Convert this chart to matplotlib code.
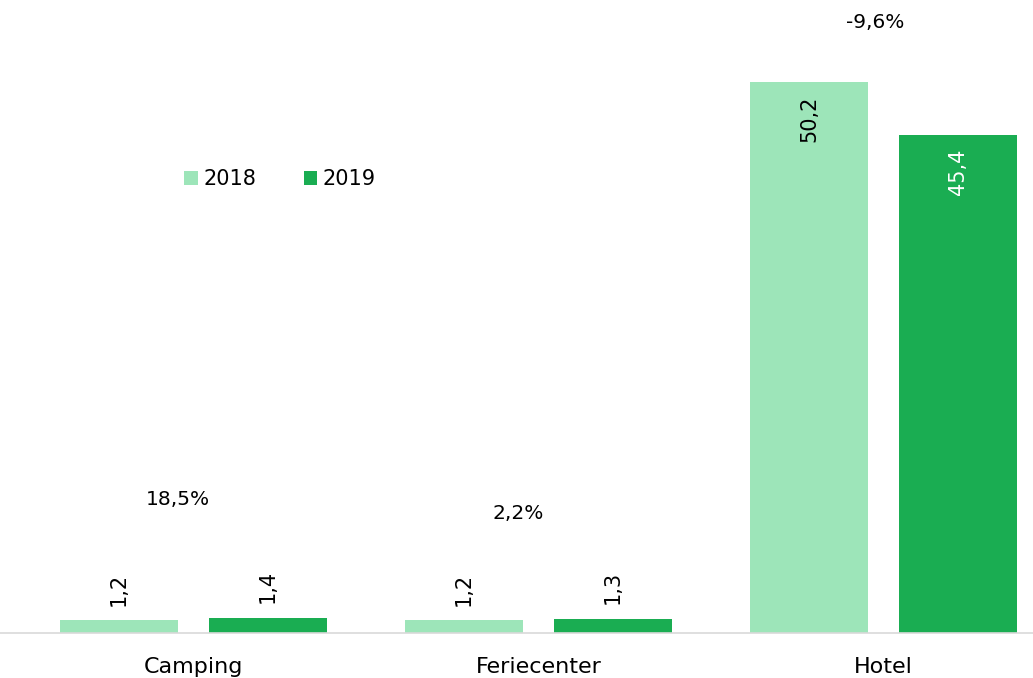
import matplotlib
matplotlib.use("Agg")
import matplotlib.pyplot as plt
import numpy as np

categories = ["Camping", "Feriecenter", "Hotel"]
series_names = ["2018", "2019"]
values_2018 = [1.2, 1.2, 50.2]
values_2019 = [1.4, 1.3, 45.4]
change_labels = ["18,5%", "2,2%", "-9,6%"]
change_label_pos = [(-0.045, 12.2), (-0.06, 10.9), (-0.025, 55.6)]

c18 = "#9de5b9"
c19 = "#1aad52"

plt.rcParams['font.family'] = ['DejaVu Sans']

fig = plt.figure(figsize=(10.33, 6.78), dpi=100)
ax = fig.add_axes([0, 45/678, 1, 633/678])

x = np.arange(len(categories))
w = 0.342
off = 0.216
b1 = ax.bar(x - off, values_2018, w, color=c18, label=series_names[0])
b2 = ax.bar(x + off, values_2019, w, color=c19, label=series_names[1])

ax.set_xlim(-193.5/345, (1033-193.5)/345)
ax.set_ylim(0, 633/10.98)

def fmt(v):
    return f"{v:.1f}".replace(".", ",")

for bars, vals, inner_color in [(b1, values_2018, "black"), (b2, values_2019, "white")]:
    for rect, v in zip(bars, vals):
        cx = rect.get_x() + rect.get_width()/2
        if v > 10:
            ax.text(cx, v - 1.3, fmt(v), rotation=90, ha="center", va="top",
                    fontsize=15, color=inner_color)
        else:
            ax.text(cx, v + 1.3, fmt(v), rotation=90, ha="center", va="bottom",
                    fontsize=15, color="black")

for lab, (px, py), xi in zip(change_labels, change_label_pos, x):
    ax.text(xi + px, py, lab, ha="center", va="center", fontsize=14.5, color="black")

for s in ["top", "right", "left"]:
    ax.spines[s].set_visible(False)
ax.spines["bottom"].set_color("#d9d9d9")
ax.spines["bottom"].set_linewidth(1.2)
ax.set_yticks([])
ax.set_xticks(x)
ax.set_xticklabels(categories, fontsize=16)
ax.tick_params(axis="x", length=0, pad=17)

ax.legend(loc="center", bbox_to_anchor=(280/1033, 1 - 179/633), ncol=2,
          frameon=False, fontsize=15, handlelength=0.65, handleheight=0.65,
          handletextpad=0.25, columnspacing=2.3)

fig.savefig("out.png", dpi=100)
